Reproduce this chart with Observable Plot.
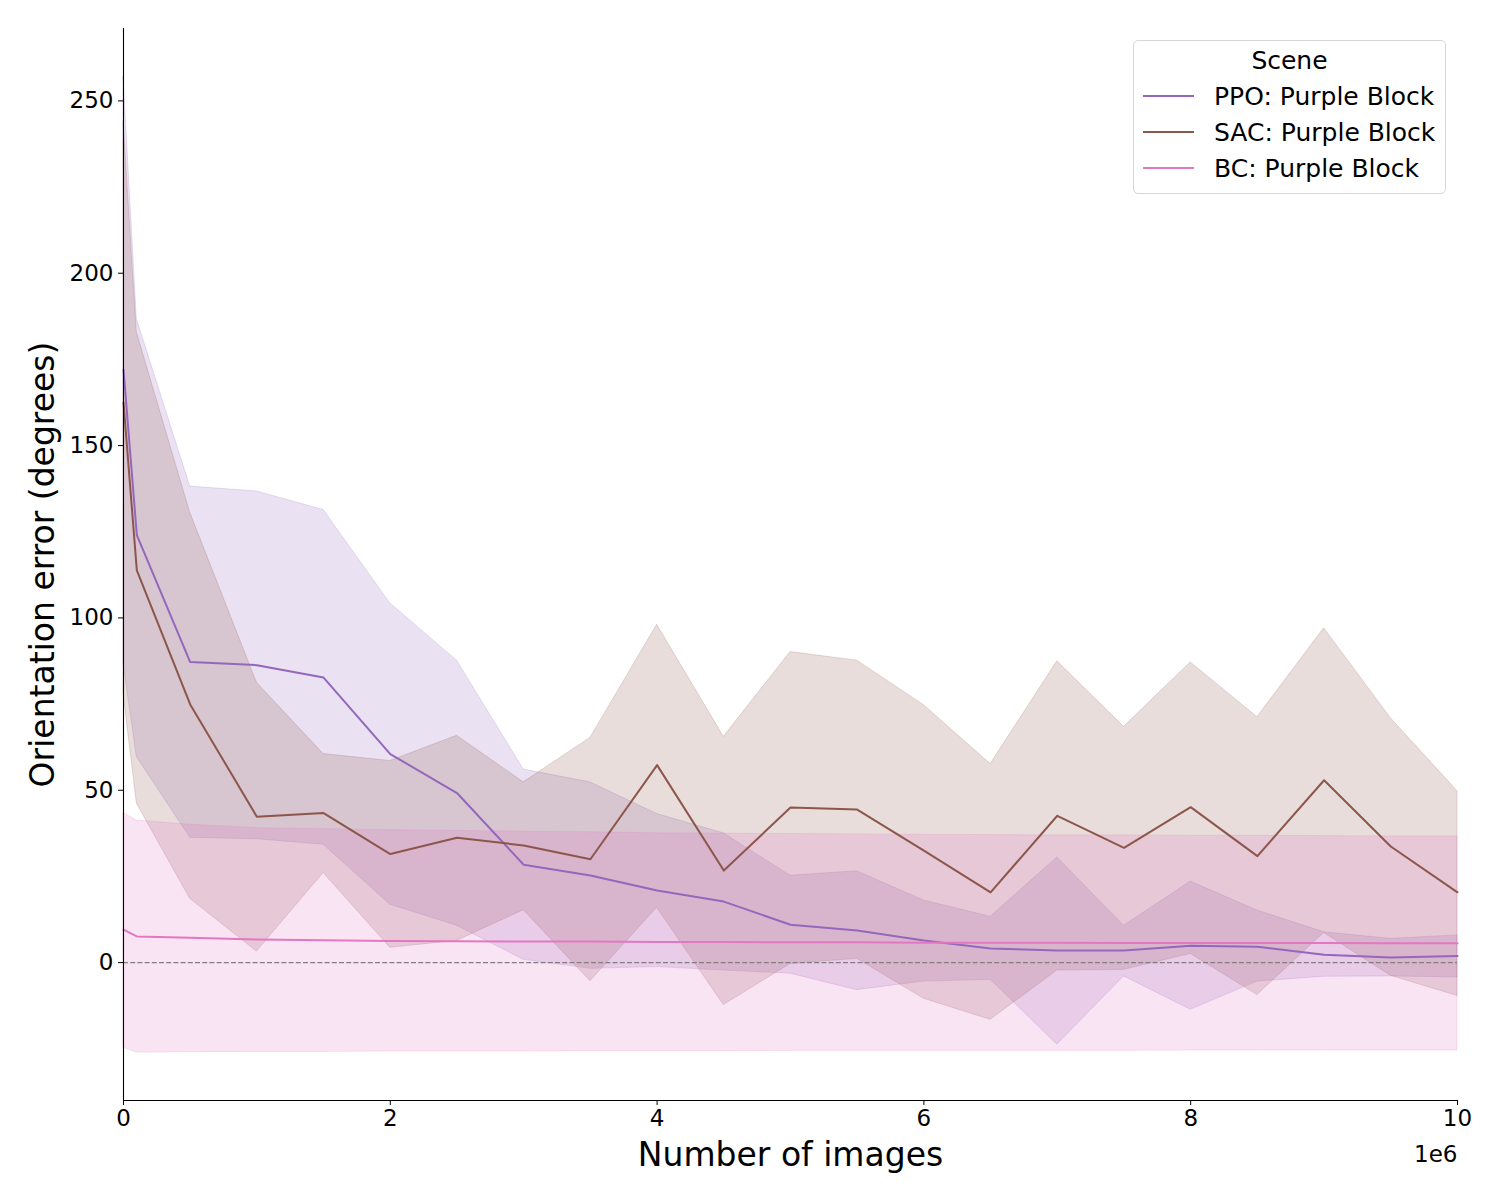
<!DOCTYPE html>
<html>
<head>
<meta charset="utf-8">
<script src="https://cdn.jsdelivr.net/npm/d3@7"></script>
<script src="https://cdn.jsdelivr.net/npm/@observablehq/plot@0.6"></script>
<style>
  body { margin: 0; background: white; font-family: "DejaVu Sans", sans-serif; }
  #wrap { position: relative; width: 1500px; height: 1200px; }
  #legend {
    position: absolute; left: 1133px; top: 40px; width: 311px; height: 152px;
    border: 1px solid #d6d6d6; border-radius: 5px; background: rgba(255,255,255,0.8);
    font-family: "DejaVu Sans", sans-serif; font-size: 25px; color: #000;
  }
  #legend .title { position: absolute; left: 0; width: 100%; top: 4px; text-align: center; line-height: 32px; }
  #legend .row { position: absolute; left: 9px; height: 32px; display: flex; align-items: center; white-space: nowrap; }
  #legend .sw { width: 51px; height: 0; border-top: 2px solid; margin-right: 20px; }
</style>
</head>
<body>
<div id="wrap"><div id="legend"></div></div>
<script>
// Data (x in number of images)
const steps = [0, 0.1e6, 0.5e6, 1e6, 1.5e6, 2e6, 2.5e6, 3e6, 3.5e6, 4e6, 4.5e6, 5e6, 5.5e6, 6e6, 6.5e6, 7e6, 7.5e6, 8e6, 8.5e6, 9e6, 9.5e6, 10e6];

const seriesNames = ["PPO: Purple Block", "SAC: Purple Block", "BC: Purple Block"];
const seriesColors = ["#9467bd", "#8c564b", "#e377c2"];

const ppoMean  = [172, 124, 87.2, 86.3, 82.7, 60.5, 49.2, 28.4, 25.3, 20.9, 17.7, 11.0, 9.3, 6.4, 4.1, 3.5, 3.5, 4.9, 4.6, 2.3, 1.5, 1.9];
const ppoUpper = [257, 186.7, 138.1, 136.7, 131.3, 104.2, 87.6, 56.0, 52.3, 43.1, 37.5, 25.2, 26.5, 18.0, 13.3, 30.5, 10.7, 23.5, 15.1, 8.8, 6.9, 7.9];
const ppoLower = [86.6, 59.6, 36.2, 35.8, 34.2, 16.8, 10.7, 0.8, -1.8, -1.3, -2.3, -3.2, -8.0, -5.5, -5.0, -23.8, -4.0, -13.7, -5.5, -4.1, -4.0, -4.3];

const sacMean  = [162.5, 113.8, 74.9, 42.3, 43.4, 31.5, 36.2, 34.0, 30.0, 57.3, 26.7, 45.0, 44.4, 32.5, 20.4, 42.6, 33.3, 45.1, 30.9, 52.9, 33.7, 20.4];
const sacUpper = [244, 182.8, 130.5, 81.2, 60.5, 58.5, 65.8, 52.3, 65.2, 98.0, 65.5, 90.1, 87.6, 74.7, 57.6, 87.4, 68.4, 87.1, 71.2, 97.0, 70.9, 49.7];
const sacLower = [78, 46.1, 18.5, 3.2, 26.0, 4.3, 6.3, 15.2, -5.4, 15.9, -12.3, -0.4, 1.1, -10.5, -16.6, -2.3, -2.1, 2.5, -9.4, 8.6, -3.8, -9.7];

const bcMean  = [9.6, 7.6, 7.2, 6.7, 6.5, 6.3, 6.2, 6.1, 6.1, 6.0, 6.0, 5.9, 5.9, 5.8, 5.8, 5.8, 5.7, 5.7, 5.7, 5.7, 5.6, 5.6];
const bcUpper = [43.4, 41.2, 40.0, 39.0, 38.7, 38.4, 38.2, 38.0, 37.8, 37.5, 37.4, 37.3, 37.2, 37.1, 37.0, 36.9, 36.9, 36.8, 36.8, 36.7, 36.6, 36.6];
const bcLower = [-24.7, -26.1, -26.0, -25.9, -25.9, -25.8, -25.8, -25.8, -25.7, -25.7, -25.7, -25.6, -25.6, -25.6, -25.6, -25.6, -25.6, -25.5, -25.5, -25.5, -25.5, -25.5];

const yTicks = [0, 50, 100, 150, 200, 250];
const xTicks = [0, 2e6, 4e6, 6e6, 8e6, 10e6];

const groups = [
  [ppoMean, ppoUpper, ppoLower],
  [sacMean, sacUpper, sacLower],
  [bcMean, bcUpper, bcLower]
];
const data = [];
groups.forEach((g, i) => {
  steps.forEach((x, j) => {
    data.push({series: seriesNames[i], x, mean: g[0][j], upper: g[1][j], lower: g[2][j]});
  });
});

const chart = Plot.plot({
  width: 1500,
  height: 1200,
  marginLeft: 123,
  marginRight: 43,
  marginTop: 28,
  marginBottom: 100,
  style: {fontFamily: "DejaVu Sans", fontSize: "23px", background: "white", color: "black", overflow: "visible"},
  x: {domain: [0, 10e6]},
  y: {domain: [-40, 271]},
  color: {domain: seriesNames, range: seriesColors},
  marks: [
    Plot.areaY(data, {x: "x", y1: "lower", y2: "upper", z: "series", fill: "series", fillOpacity: 0.2, stroke: "series", strokeOpacity: 0.2, strokeWidth: 1}),
    Plot.ruleY([0], {stroke: "#7f7f7f", strokeWidth: 1.2, strokeDasharray: "5,2.2"}),
    Plot.lineY(data, {x: "x", y: "mean", z: "series", stroke: "series", strokeWidth: 2}),
    Plot.axisX({ticks: xTicks, tickFormat: d => String(d / 1e6), tickSize: 5, tickPadding: 4, fontSize: 23, label: null}),
    Plot.axisY({ticks: yTicks, tickSize: 5, tickPadding: 5, fontSize: 23, label: null}),
    Plot.ruleX([0], {stroke: "black", strokeWidth: 1.1}),
    Plot.ruleY([-40], {stroke: "black", strokeWidth: 1.1}),
    Plot.text(["Orientation error (degrees)"], {frameAnchor: "left", textAnchor: "middle", lineAnchor: "middle", rotate: -90, dx: -80, fontSize: 33}),
    Plot.text(["Number of images"], {frameAnchor: "bottom", textAnchor: "middle", lineAnchor: "middle", dy: 55, fontSize: 33}),
    Plot.text(["1e6"], {frameAnchor: "bottom-right", textAnchor: "end", lineAnchor: "middle", dy: 54, fontSize: 23})
  ]
});
document.getElementById("wrap").prepend(chart);

// Legend
const legend = document.getElementById("legend");
const t = document.createElement("div");
t.className = "title"; t.textContent = "Scene";
legend.appendChild(t);
seriesNames.forEach((name, i) => {
  const row = document.createElement("div");
  row.className = "row";
  row.style.top = (39 + i * 36) + "px";
  const sw = document.createElement("div");
  sw.className = "sw"; sw.style.borderTopColor = seriesColors[i];
  const lab = document.createElement("span");
  lab.textContent = name;
  row.appendChild(sw); row.appendChild(lab);
  legend.appendChild(row);
});
</script>
</body>
</html>
